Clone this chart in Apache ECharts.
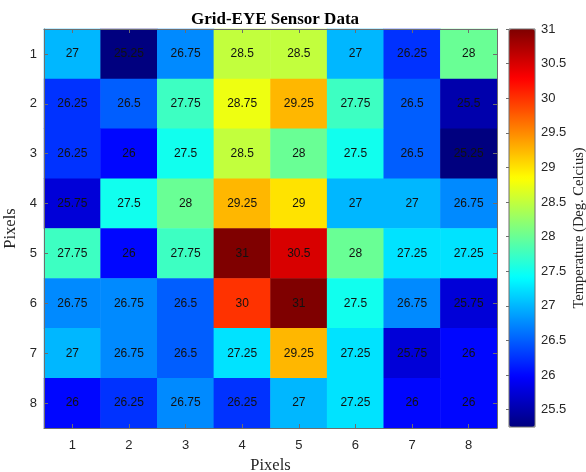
<!DOCTYPE html>
<html>
<head>
<meta charset="utf-8">
<script src="https://cdn.jsdelivr.net/npm/echarts@6/dist/echarts.min.js"></script>
<style>
  html, body { margin: 0; padding: 0; background: #fff; }
  #chart { width: 586px; height: 472px; }
</style>
</head>
<body>
<div id="chart"></div>
<script>
// 8x8 thermopile readings, row 1 at the top
const columns = ['1', '2', '3', '4', '5', '6', '7', '8'];
const rows = ['1', '2', '3', '4', '5', '6', '7', '8'];
const row1 = [27, 25.25, 26.75, 28.5, 28.5, 27, 26.25, 28];
const row2 = [26.25, 26.5, 27.75, 28.75, 29.25, 27.75, 26.5, 25.5];
const row3 = [26.25, 26, 27.5, 28.5, 28, 27.5, 26.5, 25.25];
const row4 = [25.75, 27.5, 28, 29.25, 29, 27, 27, 26.75];
const row5 = [27.75, 26, 27.75, 31, 30.5, 28, 27.25, 27.25];
const row6 = [26.75, 26.75, 26.5, 30, 31, 27.5, 26.75, 25.75];
const row7 = [27, 26.75, 26.5, 27.25, 29.25, 27.25, 25.75, 26];
const row8 = [26, 26.25, 26.75, 26.25, 27, 27.25, 26, 26];
const colorbarTicks = [25.5, 26, 26.5, 27, 27.5, 28, 28.5, 29, 29.5, 30, 30.5, 31];
const tempMin = 25.25;
const tempMax = 31;

const grid = [row1, row2, row3, row4, row5, row6, row7, row8];
const cells = [];
grid.forEach((r, yi) => r.forEach((v, xi) => cells.push([xi, yi, v])));

// jet colormap
const jet = ['#00007f', '#0000ff', '#007fff', '#00ffff', '#7fff7f', '#ffff00', '#ff7f00', '#ff0000', '#7f0000'];

const axisGray = '#6e6e6e';
const labelColor = '#262626';
const serif = '"Liberation Serif", "Times New Roman", serif';
const sans = '"Liberation Sans", Arial, sans-serif';

const chart = echarts.init(document.getElementById('chart'), null, { renderer: 'canvas' });

const catAxisBase = {
  type: 'category',
  z: 5,
  axisLine: { show: true, lineStyle: { color: axisGray, width: 1 } },
  axisTick: { show: true, inside: true, alignWithLabel: true, length: 4, lineStyle: { color: axisGray } },
  splitLine: { show: false }
};

chart.setOption({
  animation: false,
  backgroundColor: '#fff',
  title: {
    text: 'Grid-EYE Sensor Data',
    left: 270, top: 6, textAlign: 'center',
    textStyle: { fontFamily: serif, fontWeight: 'bold', fontSize: 17, color: '#000' }
  },
  grid: [
    { left: 44, top: 29, width: 453, height: 399, containLabel: false, outerBoundsMode: 'none' },
    { left: 509, top: 29, width: 26, height: 398, show: true, borderColor: axisGray, borderWidth: 1,
      backgroundColor: 'transparent', z: 10, containLabel: false, outerBoundsMode: 'none' }
  ],
  xAxis: [
    Object.assign({}, catAxisBase, {
      gridIndex: 0, data: columns, position: 'bottom',
      name: 'Pixels', nameLocation: 'middle', nameGap: 29,
      nameTextStyle: { fontFamily: serif, fontSize: 16.5, color: labelColor },
      axisLabel: { margin: 11, fontFamily: sans, fontSize: 13, color: labelColor }
    }),
    Object.assign({}, catAxisBase, {
      gridIndex: 0, data: columns, position: 'top',
      axisLabel: { show: false }
    }),
    { type: 'value', gridIndex: 1, min: 0, max: 1, show: false }
  ],
  yAxis: [
    Object.assign({}, catAxisBase, {
      gridIndex: 0, data: rows, inverse: true, position: 'left',
      name: 'Pixels', nameLocation: 'middle', nameGap: 19, nameRotate: 90,
      nameTextStyle: { fontFamily: serif, fontSize: 16.5, color: labelColor },
      axisLabel: { margin: 7, fontFamily: sans, fontSize: 13, color: labelColor }
    }),
    Object.assign({}, catAxisBase, {
      gridIndex: 0, data: rows, inverse: true, position: 'right',
      axisLabel: { show: false }
    }),
    {
      type: 'value', gridIndex: 1, position: 'right', min: tempMin, max: tempMax, z: 11,
      name: 'Temperature (Deg. Celcius)', nameLocation: 'middle', nameGap: 37, nameRotate: 90,
      nameTextStyle: { fontFamily: serif, fontSize: 14.5, color: labelColor },
      axisLine: { show: false },
      splitLine: { show: false },
      axisTick: { show: true, inside: true, length: 3, customValues: colorbarTicks, lineStyle: { color: axisGray } },
      axisLabel: { show: true, margin: 6, fontFamily: sans, fontSize: 13, color: labelColor, customValues: colorbarTicks,
        formatter: v => String(v) }
    }
  ],
  visualMap: {
    type: 'continuous',
    seriesIndex: 0,
    dimension: 2,
    min: tempMin, max: tempMax,
    calculable: false,
    orient: 'vertical',
    left: 509, top: 29,
    itemWidth: 26, itemHeight: 398,
    padding: 0,
    text: null,
    showLabel: false,
    inRange: { color: jet }
  },
  series: [
    {
      type: 'heatmap',
      xAxisIndex: 0, yAxisIndex: 0,
      data: cells,
      label: {
        show: true,
        fontFamily: sans, fontSize: 12, color: '#111',
        formatter: p => String(p.value[2])
      },
      itemStyle: { borderWidth: 0 },
      emphasis: { disabled: true }
    },
    {
      type: 'line', xAxisIndex: 2, yAxisIndex: 2, data: [], silent: true
    }
  ]
});
</script>
</body>
</html>
